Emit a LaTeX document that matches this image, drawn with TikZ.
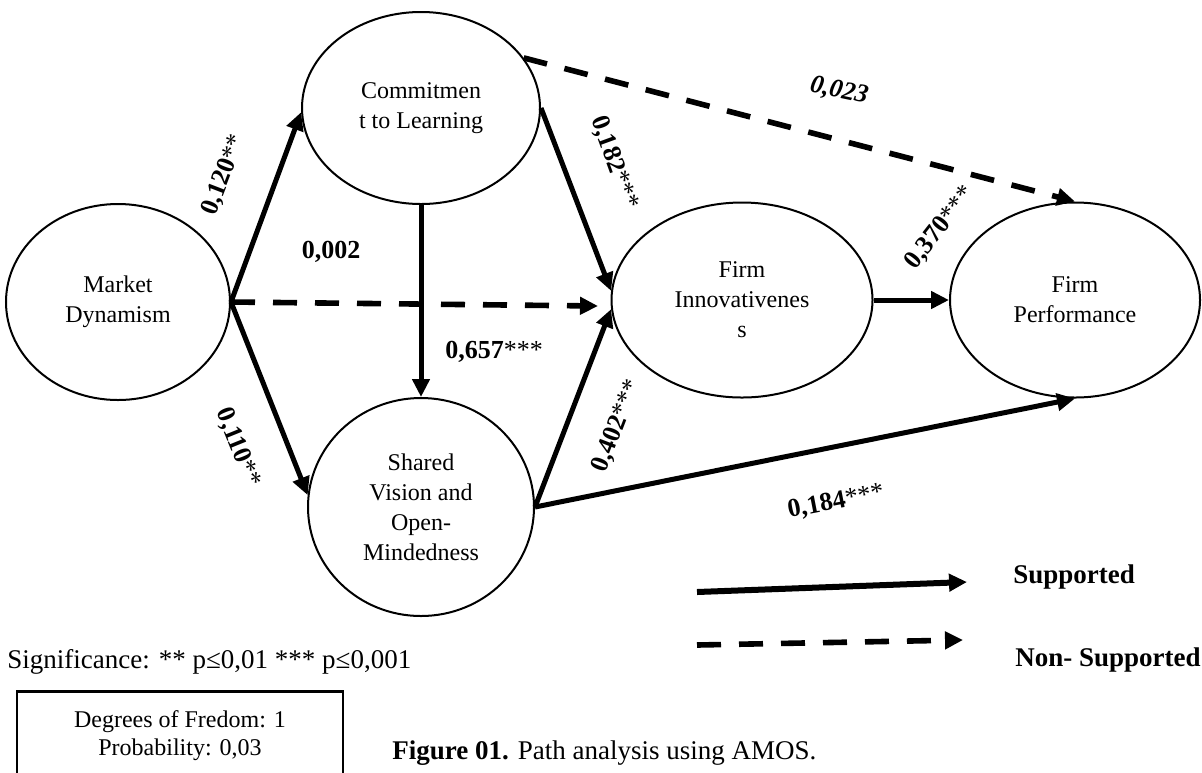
\documentclass[tikz,border=0pt]{standalone}
\usepackage{fontspec}
\setmainfont{Liberation Serif}
\usetikzlibrary{shapes.geometric,arrows.meta}
\begin{document}
\begin{tikzpicture}[x=0.5pt,y=-0.5pt,
  latent/.style={draw,ellipse,line width=1pt,inner sep=0pt,align=center,font=\fontsize{12}{15}\selectfont},
  solidarrow/.style={line width=2.5pt,-{Triangle[length=9pt,width=8.5pt]}},
  dasharrow/.style={line width=2.8pt,dash pattern=on 12pt off 9pt,-{Triangle[length=9pt,width=8.5pt]}},
  coef/.style={font=\fontsize{13}{15}\selectfont,inner sep=1pt},
  legendtext/.style={font=\fontsize{13.5}{16}\selectfont\bfseries,anchor=west,inner sep=0pt},
  plaintext/.style={font=\fontsize{13.5}{16}\selectfont,anchor=west,inner sep=0pt},
]
\clip (0,0) rectangle (1202,772);
\fill[white] (0,0) rectangle (1202,772);

% latent variables
\node[latent,minimum width=112pt,minimum height=98pt] (MD) at (118,302) {Market\\Dynamism};
\node[latent,minimum width=119pt,minimum height=96pt] (CL) at (421,108) {Commitmen\\t to Learning};
\node[latent,minimum width=113pt,minimum height=109pt] (SV) at (421,507) {Shared\\Vision and\\Open-\\Mindedness};
\node[latent,minimum width=130.5pt,minimum height=97.5pt] (FI) at (742,300) {Firm\\Innovativenes\\s};
\node[latent,minimum width=125pt,minimum height=97.5pt] (FP) at (1075,300) {Firm\\Performance};

\coordinate (dashend) at (598,306);

% paths
\draw[solidarrow] (MD.east) -- (CL.182);
\draw[solidarrow] (MD.east) -- (SV.174);
\draw[dasharrow] (MD.east) -- (dashend);
\draw[solidarrow] (CL.south) -- (SV.north);
\draw[solidarrow] (CL.east) -- (FI.176);
\draw[solidarrow] (SV.east) -- (FI.184);
\draw[solidarrow] (SV.east) -- (FP.south);
\draw[solidarrow] (FI.east) -- (FP.west);
\draw[dasharrow] (CL.26) -- (FP.north);

% coefficients
\node[coef,rotate=69] (l120) at (224,175) {\textbf{0,120}**};
\node[coef] (l002) at (331,252) {\textbf{0,002}};
\node[coef] (l657) at (494,352) {\textbf{0,657}***};
\node[coef,rotate=-68] (l110) at (238,448) {\textbf{0,110}**};
\node[coef,rotate=-70] (l182) at (614,163) {\textbf{0,182}***};
\node[coef,rotate=-12] (l023) at (839,91) {\textbf{\textit{0,023}}};
\node[coef,rotate=52] (l370) at (940,228) {\textbf{0,370}***};
\node[coef,rotate=69] (l402) at (617,426) {\textbf{0,402}***};
\node[coef,rotate=11] (l184) at (836,502) {\textbf{0,184}***};

% legend
\coordinate (s1) at (697,592);
\coordinate (s2) at (967,582);
\coordinate (d1) at (697,645);
\coordinate (d2) at (963,640);
\draw[solidarrow,line width=3pt] (s1) -- (s2);
\draw[dasharrow] (d1) -- (d2);
\node[legendtext] (sup) at (1013,577) {Supported};
\node[legendtext] (nonsup) at (1015,660) {Non- Supported};

% notes
\node[plaintext] (sig) at (7,662) {Significance: ** p≤0,01 *** p≤0,001};
\node[draw,line width=1.3pt,minimum width=163pt,minimum height=50pt,anchor=north,inner sep=0pt] (box) at (180,690) {};
\node[align=center,font=\fontsize{12}{14}\selectfont,inner sep=0pt] (dof) at (180,736) {Degrees of Fredom: 1\\Probability: 0,03};
\node[plaintext] (cap) at (392,753) {\textbf{Figure 01.} Path analysis using AMOS.};
\end{tikzpicture}
\end{document}
